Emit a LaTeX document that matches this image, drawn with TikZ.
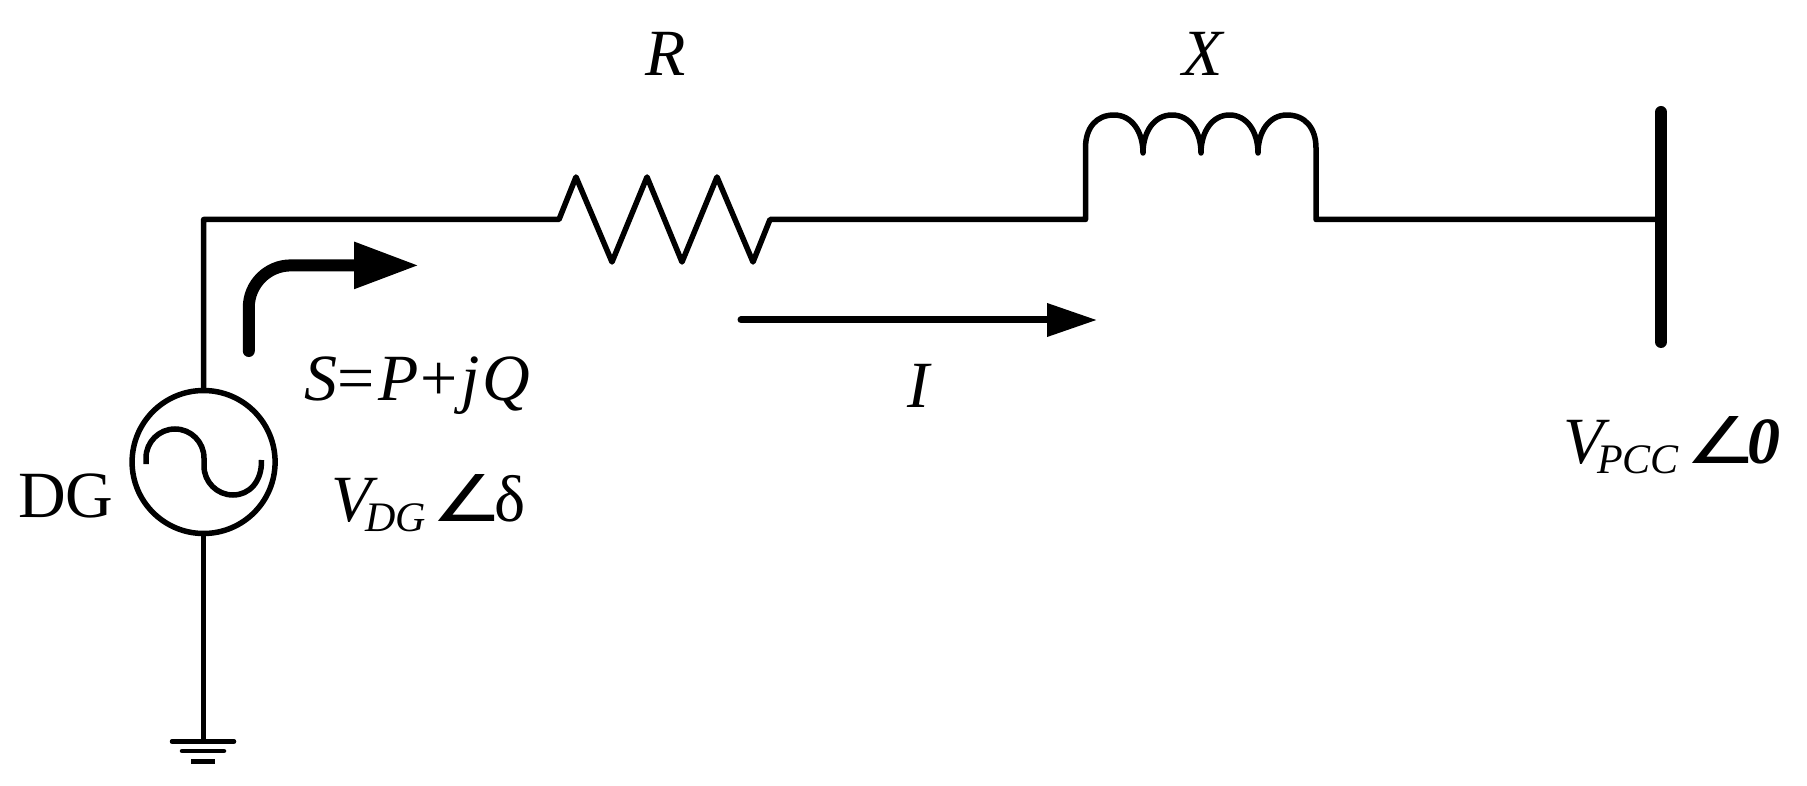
\documentclass[tikz,border=0pt]{standalone}
\usepackage{fontspec}
\setmainfont{Liberation Serif}
\newfontfamily\symfont{DejaVu Sans}
\usetikzlibrary{arrows.meta}
\newcommand{\bigfont}{\fontsize{66}{70}\selectfont}
\newcommand{\subfont}{\fontsize{42}{46}\selectfont}
\newcommand{\anglemark}{\resizebox{72pt}{47pt}{\symfont ∠}}
\tikzset{
  wire/.style={line width=5.5pt,line join=round,draw=black},
  label/.style={anchor=base west,inner sep=0pt,outer sep=0pt,text=black,font=\bigfont},
  sublabel/.style={anchor=base west,inner sep=0pt,outer sep=0pt,text=black,font=\subfont\itshape},
  bus/.style={line width=12pt,line cap=round,draw=black},
  flow/.style={line width=12pt,line cap=round,rounded corners=42pt,-{Triangle[length=65pt,width=44pt]}},
  current/.style={line width=7pt,line cap=round,-{Triangle[length=50pt,width=32pt]}},
  earth/.style={line width=4.5pt,line cap=round,draw=black},
  source/.style={circle,draw=black,line width=5.5pt,minimum size=143pt,inner sep=0pt,outer sep=0pt}
}
\begin{document}
\begin{tikzpicture}[x=1pt,y=-1pt]
\useasboundingbox (0,0) rectangle (1807,786);
\fill[white] (0,0) rectangle (1807,786);
% source
\node[source] (dg) at (203.6,462) {};
\draw[line width=5.5pt] (146,464) -- (146,458) .. controls (146,442) and (159,429) .. (175,429) .. controls (191,429) and (204,442) .. (204,458) -- (204,466) .. controls (204,482) and (217,495) .. (233,495) .. controls (249,495) and (262,482) .. (261.5,460);
% named points
\coordinate (corner) at (203.6,219.5);
\coordinate (rin) at (559,219.5);
\coordinate (rout) at (770,219.5);
\coordinate (xin) at (1085.5,219.5);
\coordinate (xout) at (1316,219.5);
\coordinate (bustop) at (1661,112);
\coordinate (busbot) at (1661,342);
\coordinate (busin) at (1661,219.5);
\coordinate (gnd) at (203.6,741.5);
% wires
\draw[wire] (dg.north) -- (corner) -- (rin)
  -- (576,177) -- (612,262) -- (647,177) -- (682,262) -- (717,177) -- (753,262) -- (rout) -- (xin)
  -- (1085.5,148)
  .. controls (1085.5,128) and (1096,115) .. (1114,115)
  .. controls (1132,115) and (1143,132) .. (1143,153)
  .. controls (1143,132) and (1154,115) .. (1172,115)
  .. controls (1190,115) and (1201,132) .. (1201,153)
  .. controls (1201,132) and (1212,115) .. (1229.5,115)
  .. controls (1247,115) and (1258,132) .. (1258,153)
  .. controls (1258,132) and (1269,115) .. (1287,115)
  .. controls (1305,115) and (1316,128) .. (1316,148)
  -- (xout) -- (busin);
\draw[wire] (dg.south) -- (gnd);
% ground
\draw[earth] (172,741.5) -- (234,741.5);
\draw[earth] (182,751) -- (224,751);
\draw[earth,line cap=butt] (191,761.3) -- (215,761.3);
% bus
\draw[bus] (bustop) -- (busbot);
% arrows
\coordinate (sa) at (248.8,351);
\coordinate (sb) at (419,265.4);
\draw[flow] (sa) -- (248.8,265.4) -- (sb);
\coordinate (ia) at (741,320);
\coordinate (ib) at (1097,320);
\draw[current] (ia) -- (ib);
% labels
\node[label] (dglab) at (18,517) {DG};
\node[label] (slab) at (304,400) {\textit{S}=\kern4pt\textit{P}\kern2pt+\kern4pt\textit{j}\kern2pt\textit{Q}};
\node[label] (vdg) at (331,521) {\textit{V}};
\node[sublabel] (vdgs) at (365,531) {DG};
\node[label] (adg) at (431,521) {\anglemark};
\node[label] (delta) at (494,521) {δ};
\node[label] (rlab) at (645,76) {\textit{R}};
\node[label] (xlab) at (1182,76) {\textit{X}};
\node[label] (ilab) at (907,407) {\textit{I}};
\node[label] (vpcc) at (1563,463) {\textit{V}};
\node[sublabel] (vpccs) at (1597,473) {PCC};
\node[label] (apcc) at (1685,463) {\anglemark};
\node[label] (zero) at (1747,463) {\textbf{\textit{0}}};
\end{tikzpicture}
\end{document}
